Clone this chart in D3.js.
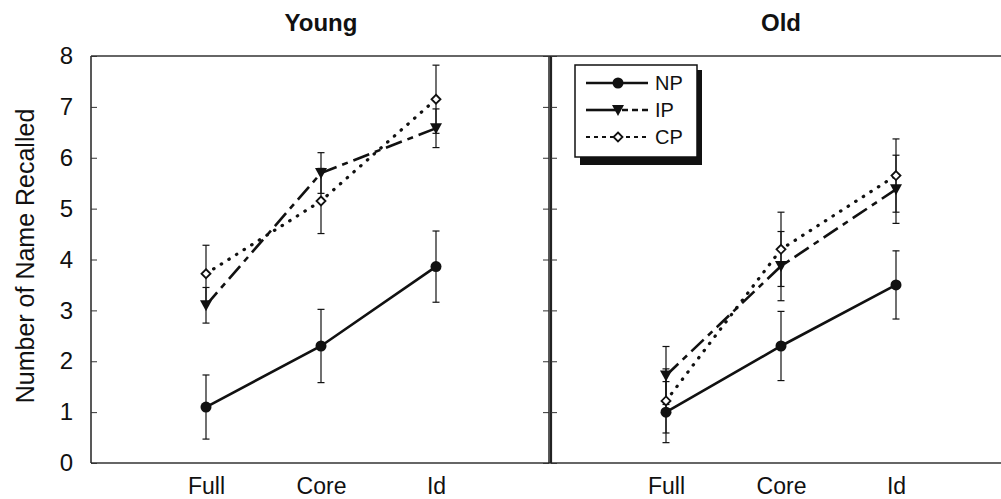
<!DOCTYPE html>
<html><head><meta charset="utf-8">
<script src="https://cdn.jsdelivr.net/npm/d3@7"></script>
<style>body{margin:0;background:#fff}svg{display:block}text{font-family:"Liberation Sans",Arial,sans-serif;fill:#111}</style>
</head><body>
<svg id="c" width="1001" height="499"></svg>
<script>
const categories = ["Full", "Core", "Id"];
const panels = ["Young", "Old"];
const seriesNames = ["NP", "IP", "CP"];
const yTicks = [0,1,2,3,4,5,6,7,8];
// means [panel][category]
const npMean = [[1.1, 2.3, 3.86], [1.0, 2.3, 3.5]];
const npErr  = [[0.63, 0.72, 0.7], [0.6, 0.68, 0.67]];
const ipMean = [[3.1, 5.7, 6.58], [1.72, 3.87, 5.38]];
const ipErr  = [[0.35, 0.4, 0.38], [0.57, 0.68, 0.67]];
const cpMean = [[3.72, 5.15, 7.15], [1.22, 4.2, 5.65]];
const cpErr  = [[0.56, 0.64, 0.67], [0.63, 0.73, 0.72]];

const svg = d3.select("#c");
const yTop = 56, yBot = 463;
const y = d3.scaleLinear().domain([0, 8]).range([yBot, yTop]);
const panelX = [[91, 551], [551, 1011]];
const series = [
  {name:"NP", mean:npMean, err:npErr, dash:null, marker:"circle"},
  {name:"IP", mean:ipMean, err:ipErr, dash:"17,6,6,6", marker:"tri"},
  {name:"CP", mean:cpMean, err:cpErr, dash:"0.5,8.5", marker:"diamond"}
];
const col = "#111";
const FF = '"Liberation Sans",Arial,sans-serif';

function drawMarker(g, type, cx, cy) {
  if (type === "circle") {
    g.append("circle").attr("cx", cx).attr("cy", cy).attr("r", 5.5).attr("fill", col);
  } else if (type === "tri") {
    g.append("path").attr("d", `M${cx-6},${cy-5}L${cx+6},${cy-5}L${cx},${cy+6}Z`).attr("fill", col);
  } else {
    g.append("path").attr("d", `M${cx},${cy-4.5}L${cx+4.5},${cy}L${cx},${cy+4.5}L${cx-4.5},${cy}Z`)
      .attr("fill", "#fff").attr("stroke", col).attr("stroke-width", 1.8);
  }
}

svg.append("line").attr("x1", 91).attr("x2", 1001).attr("y1", yTop).attr("y2", yTop).attr("stroke", "#333").attr("stroke-width", 1.5);
svg.append("line").attr("x1", 91).attr("x2", 1001).attr("y1", yBot).attr("y2", yBot).attr("stroke", "#333").attr("stroke-width", 1.5);

panels.forEach((pname, pi) => {
  const [x0, x1] = panelX[pi];
  const x = d3.scalePoint().domain(["", ...categories, " "]).range([x0, x1]);
  const g = svg.append("g");
  const axL = d3.axisRight(y).tickValues(yTicks).tickSize(6).tickFormat("");
  const ga = g.append("g").attr("transform", `translate(${x0},0)`).call(axL);
  ga.select(".domain").attr("stroke", "#222").attr("stroke-width", pi === 0 ? 1.5 : 2.2).attr("d", `M0,${yTop}V${yBot}`);
  ga.selectAll(".tick line").attr("stroke", "#333");
  if (pi === 0) {
    const axR = d3.axisLeft(y).tickValues(yTicks).tickSize(6).tickFormat("");
    const gr = g.append("g").attr("transform", `translate(${x1-2},0)`).call(axR);
    gr.select(".domain").attr("stroke", "#222").attr("stroke-width", 1.5).attr("d", `M0,${yTop}V${yBot}`);
    gr.selectAll(".tick line").attr("stroke", "#333");
    const tl = d3.axisLeft(y).tickValues(yTicks).tickSize(0).tickPadding(0);
    const gl = g.append("g").attr("transform", `translate(73,0)`).call(tl);
    gl.select(".domain").remove();
    gl.selectAll("text").attr("font-size", 24).attr("fill", "#111").style("font-family", FF);
  }
  const xa = d3.axisBottom(x).tickValues(categories).tickSize(0).tickPadding(0);
  const gx = g.append("g").attr("transform", `translate(0,${yBot})`).call(xa);
  gx.select(".domain").remove();
  gx.selectAll("text").attr("font-size", 23).attr("fill", "#111").attr("y", 31).attr("dy", null).style("font-family", FF);
  g.append("text").attr("x", x(categories[1])).attr("y", 31).attr("text-anchor", "middle")
    .attr("font-size", 24).attr("font-weight", "bold").text(pname);

  series.forEach(s => {
    const pts = categories.map((c, i) => ({x: x(c), m: s.mean[pi][i], e: s.err[pi][i]}));
    pts.forEach(p => {
      g.append("line").attr("x1", p.x).attr("x2", p.x).attr("y1", y(p.m + p.e)).attr("y2", y(p.m - p.e)).attr("stroke", col).attr("stroke-width", 1.2);
      [p.m + p.e, p.m - p.e].forEach(v => g.append("line").attr("x1", p.x - 3.5).attr("x2", p.x + 3.5).attr("y1", y(v)).attr("y2", y(v)).attr("stroke", col).attr("stroke-width", 1.2));
    });
    const line = d3.line().x(p => p.x).y(p => y(p.m));
    const path = g.append("path").attr("d", line(pts)).attr("fill", "none").attr("stroke", col)
      .attr("stroke-width", s.name === "CP" ? 3.2 : 2.6);
    if (s.dash) path.attr("stroke-dasharray", s.dash);
    if (s.name === "CP") path.attr("stroke-linecap", "round");
    pts.forEach(p => drawMarker(g, s.marker, p.x, y(p.m)));
  });
});

svg.append("text").attr("transform", "translate(34,256) rotate(-90)").attr("text-anchor", "middle")
  .attr("font-size", 25).attr("fill", "#222").text("Number of Name Recalled");

// Legend
const lg = svg.append("g");
lg.append("rect").attr("x", 580).attr("y", 70).attr("width", 122).attr("height", 95).attr("fill", "#111");
lg.append("rect").attr("x", 575).attr("y", 65).attr("width", 122).attr("height", 92).attr("fill", "#fff").attr("stroke", "#111").attr("stroke-width", 1.5);
const lgY = d3.scalePoint().domain(seriesNames).range([83, 137]);
series.forEach(s => {
  const yy = lgY(s.name);
  if (s.name === "NP") {
    lg.append("line").attr("x1", 586).attr("x2", 648).attr("y1", yy).attr("y2", yy).attr("stroke", col).attr("stroke-width", 2.6);
  } else if (s.name === "IP") {
    lg.append("line").attr("x1", 586).attr("x2", 618).attr("y1", yy).attr("y2", yy).attr("stroke", col).attr("stroke-width", 2.6);
    lg.append("line").attr("x1", 622).attr("x2", 648).attr("y1", yy).attr("y2", yy).attr("stroke", col).attr("stroke-width", 2.6).attr("stroke-dasharray", "6,4");
  } else {
    lg.append("line").attr("x1", 586).attr("x2", 648).attr("y1", yy).attr("y2", yy).attr("stroke", col).attr("stroke-width", 2.2).attr("stroke-dasharray", "4,4");
  }
  drawMarker(lg, s.marker, 618, yy);
  lg.append("text").attr("x", 655).attr("y", yy).attr("dy", "0.36em").attr("font-size", 20).text(s.name);
});
</script>
</body></html>
